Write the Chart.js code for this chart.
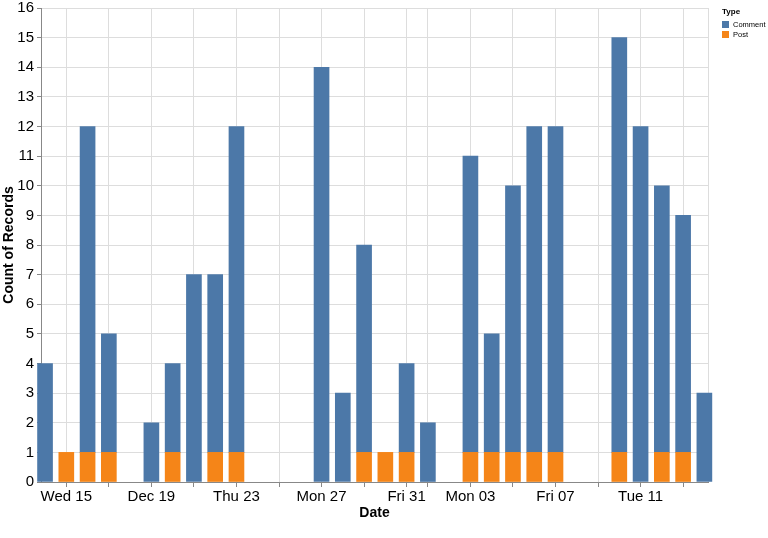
<!DOCTYPE html>
<html lang="en">
<head>
  <meta charset="UTF-8">
  <title>Count of Records by Date</title>
  <script src="https://cdn.jsdelivr.net/npm/chart.js"></script>
  <style>
    body { margin: 0; background: #fff; }
    #wrap { width: 768px; height: 538px; }
  </style>
</head>
<body>
  <div id="wrap"><canvas id="recordsChart" width="768" height="538"></canvas></div>

  <script>
    // data
    const startDate = '2021-12-14';
    const recordDates = [
      '2021-12-14', '2021-12-15', '2021-12-16', '2021-12-17', '2021-12-19',
      '2021-12-20', '2021-12-21', '2021-12-22', '2021-12-23', '2021-12-27',
      '2021-12-28', '2021-12-29', '2021-12-30', '2021-12-31', '2022-01-01',
      '2022-01-03', '2022-01-04', '2022-01-05', '2022-01-06', '2022-01-07',
      '2022-01-10', '2022-01-11', '2022-01-12', '2022-01-13', '2022-01-14'
    ];
    const commentCounts = [4, 0, 11, 4, 2, 3, 7, 6, 11, 14, 3, 7, 0, 3, 2, 10, 4, 9, 11, 11, 14, 12, 9, 8, 3];
    const postCounts    = [0, 1, 1, 1, 0, 1, 0, 1, 1, 0, 0, 1, 1, 1, 0, 1, 1, 1, 1, 1, 1, 0, 1, 1, 0];

    const labelDates = ['2021-12-15', '2021-12-19', '2021-12-23', '2021-12-27', '2021-12-31', '2022-01-03', '2022-01-07', '2022-01-11'];
    const labelTexts = ['Wed 15', 'Dec 19', 'Thu 23', 'Mon 27', 'Fri 31', 'Mon 03', 'Fri 07', 'Tue 11'];
    const minorDates = ['2021-12-17', '2021-12-21', '2021-12-25', '2021-12-29', '2022-01-01', '2022-01-05', '2022-01-09', '2022-01-13'];

    const seriesNames = ['Comment', 'Post'];
    const seriesColors = ['#4c78a8', '#f58518'];

    const FONT = '"Liberation Sans", Arial, sans-serif';

    function dayIndex(d) {
      return Math.round((Date.parse(d) - Date.parse(startDate)) / 86400000);
    }

    // zero counts are left out so no empty sliver is drawn
    function toPoints(counts) {
      return recordDates.map((d, i) => ({ x: dayIndex(d), y: counts[i] || null }));
    }

    const labelDays = labelDates.map(dayIndex);
    const tickDays = labelDays.concat(minorDates.map(dayIndex)).sort((a, b) => a - b);

    const xMin = -0.19, xMax = 31.17;

    // small legend in the top right corner
    const typeLegend = {
      id: 'typeLegend',
      afterDraw(chart) {
        const ctx = chart.ctx;
        ctx.save();
        ctx.textBaseline = 'middle';
        ctx.fillStyle = '#000';
        ctx.font = 'bold 8px ' + FONT;
        ctx.fillText('Type', 722, 12);
        ctx.font = '7.5px ' + FONT;
        seriesNames.forEach((name, i) => {
          const y = 21 + i * 10;
          ctx.fillStyle = seriesColors[i];
          ctx.fillRect(722, y, 7, 7);
          ctx.fillStyle = '#000';
          ctx.fillText(name, 733, y + 3.8);
        });
        ctx.restore();
      }
    };

    new Chart(document.getElementById('recordsChart'), {
      type: 'bar',
      data: {
        datasets: [
          { label: seriesNames[1], data: toPoints(postCounts), backgroundColor: seriesColors[1] },
          { label: seriesNames[0], data: toPoints(commentCounts), backgroundColor: seriesColors[0] }
        ]
      },
      options: {
        responsive: false,
        animation: false,
        layout: { padding: { top: 8, right: 60, bottom: 12, left: 0 } },
        datasets: { bar: { barThickness: 15, clip: false, borderWidth: 0 } },
        plugins: { legend: { display: false }, tooltip: { enabled: false } },
        scales: {
          x: {
            type: 'linear',
            stacked: true,
            offset: false,
            min: xMin,
            max: xMax,
            afterBuildTicks: scale => {
              scale.ticks = tickDays.map(v => ({ value: v })).concat([{ value: xMax }]);
            },
            afterFit: scale => {
              scale.height = 44;
              scale.paddingLeft = 0;
              scale.paddingRight = 0;
            },
            grid: {
              offset: false,
              color: '#ddd',
              tickLength: 5,
              tickColor: c => (c.tick && c.tick.value === xMax) ? 'rgba(0,0,0,0)' : '#888'
            },
            border: { color: '#888' },
            ticks: {
              autoSkip: false,
              maxRotation: 0,
              padding: 1,
              color: '#000',
              font: { family: FONT, size: 15 },
              callback: v => {
                const k = labelDays.indexOf(v);
                return k >= 0 ? labelTexts[k] : '';
              }
            },
            title: {
              display: true,
              text: 'Date',
              color: '#000',
              font: { family: FONT, size: 14, weight: 'bold' },
              padding: { top: 4, bottom: 4 }
            }
          },
          y: {
            stacked: true,
            min: 0,
            max: 16,
            afterFit: scale => {
              scale.width = 41;
              scale.paddingTop = 0;
              scale.paddingBottom = 0;
            },
            grid: { color: '#ddd', tickLength: 4, tickColor: '#888' },
            border: { color: '#888' },
            ticks: {
              stepSize: 1,
              padding: 3,
              color: '#000',
              font: { family: FONT, size: 15 }
            },
            title: {
              display: true,
              text: 'Count of Records',
              color: '#000',
              font: { family: FONT, size: 14, weight: 'bold' },
              padding: { top: 1, bottom: 0 }
            }
          }
        }
      },
      plugins: [typeLegend]
    });
  </script>
</body>
</html>
